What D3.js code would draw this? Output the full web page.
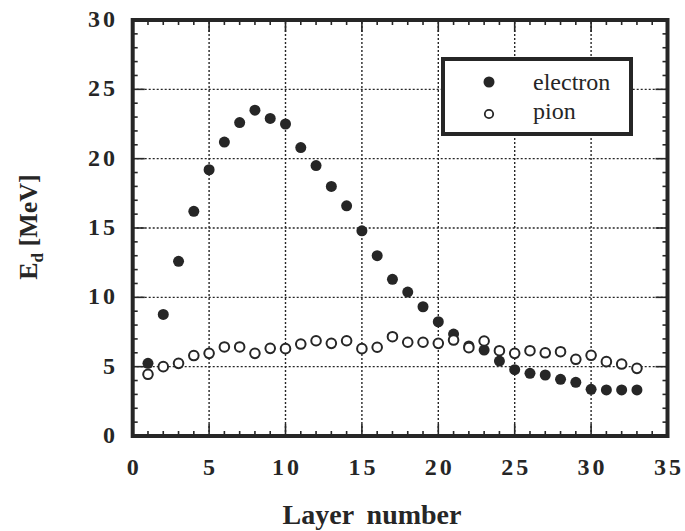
<!DOCTYPE html>
<html>
<head>
<meta charset="utf-8">
<script src="https://cdn.jsdelivr.net/npm/d3@7"></script>
<style>
  html, body { margin: 0; padding: 0; background: #fff; }
  svg { display: block; }
</style>
</head>
<body>
<svg id="chart" width="685" height="531"></svg>
<script>
// Energy deposit per layer for electrons and pions
const layers = d3.range(1, 34);
const electronEd = [5.24, 8.77, 12.6, 16.2, 19.2, 21.2, 22.6, 23.5, 22.9, 22.5,
  20.8, 19.5, 18.0, 16.6, 14.8, 13.0, 11.3, 10.38, 9.32, 8.24,
  7.35, 6.49, 6.2, 5.4, 4.78, 4.52, 4.4, 4.09, 3.87, 3.37,
  3.32, 3.32, 3.32];
const pionEd = [4.45, 5.0, 5.24, 5.8, 5.96, 6.42, 6.42, 5.96, 6.32, 6.3,
  6.63, 6.87, 6.68, 6.87, 6.3, 6.4, 7.16, 6.76, 6.76, 6.68,
  6.92, 6.37, 6.85, 6.15, 5.96, 6.15, 6.0, 6.08, 5.53, 5.82,
  5.36, 5.19, 4.88];
const xTicks = [0, 5, 10, 15, 20, 25, 30, 35];
const yTicks = [0, 5, 10, 15, 20, 25, 30];
const seriesNames = ["electron", "pion"];

const ink = "#262626";
const serif = "'Liberation Serif', Tinos, 'Times New Roman', Times, serif";
const svg = d3.select("#chart");

const x = d3.scaleLinear().domain([0, 35]).range([132.7, 667.5]);
const y = d3.scaleLinear().domain([0, 30]).range([436, 20]);

// dotted grid at major ticks
const grid = svg.append("g");
grid.selectAll("line.gx").data(xTicks.filter(v => v > 0 && v < 35)).join("line")
  .attr("x1", d => x(d)).attr("x2", d => x(d))
  .attr("y1", y(0)).attr("y2", y(30))
  .attr("stroke", ink).attr("stroke-width", 1.4).attr("stroke-dasharray", "2,2");
grid.selectAll("line.gy").data(yTicks.filter(v => v > 0 && v < 30)).join("line")
  .attr("y1", d => y(d)).attr("y2", d => y(d))
  .attr("x1", x(0)).attr("x2", x(35))
  .attr("stroke", ink).attr("stroke-width", 1.4).attr("stroke-dasharray", "2,2");

// inward ticks on all four sides
const minorX = d3.range(1, 35), minorY = d3.range(1, 30);
const tickLen = v => (v % 5 === 0 ? 12 : 5);
const ticks = svg.append("g").attr("stroke", ink).attr("stroke-width", 1.6);
ticks.selectAll(null).data(minorX).join("line")
  .attr("x1", d => x(d)).attr("x2", d => x(d))
  .attr("y1", y(0)).attr("y2", d => y(0) - tickLen(d));
ticks.selectAll(null).data(minorX).join("line")
  .attr("x1", d => x(d)).attr("x2", d => x(d))
  .attr("y1", y(30)).attr("y2", d => y(30) + tickLen(d));
ticks.selectAll(null).data(minorY).join("line")
  .attr("y1", d => y(d)).attr("y2", d => y(d))
  .attr("x1", x(0)).attr("x2", d => x(0) + tickLen(d));
ticks.selectAll(null).data(minorY).join("line")
  .attr("y1", d => y(d)).attr("y2", d => y(d))
  .attr("x1", x(35)).attr("x2", d => x(35) - tickLen(d));

// frame
svg.append("rect")
  .attr("x", x(0)).attr("y", y(30))
  .attr("width", x(35) - x(0)).attr("height", y(0) - y(30))
  .attr("fill", "none").attr("stroke", ink).attr("stroke-width", 4);

// tick labels
svg.append("g").selectAll("text").data(xTicks).join("text")
  .attr("x", d => x(d) + 1.5).attr("y", 475)
  .attr("text-anchor", "middle").attr("fill", ink)
  .style("font-family", serif)
  .style("font-size", "24px").style("font-weight", "bold").style("letter-spacing", "3px")
  .text(d => d);
svg.append("g").selectAll("text").data(yTicks).join("text")
  .attr("x", 118).attr("y", d => y(d) + 7)
  .attr("text-anchor", "end").attr("fill", ink)
  .style("font-family", serif)
  .style("font-size", "24px").style("font-weight", "bold").style("letter-spacing", "3px")
  .text(d => d);

// axis titles
svg.append("text")
  .attr("x", 372).attr("y", 524).attr("text-anchor", "middle").attr("fill", ink)
  .style("font-family", serif)
  .style("font-size", "28px").style("font-weight", "bold").style("word-spacing", "6px")
  .text("Layer number");
const yt = svg.append("text")
  .attr("transform", "translate(37,227) rotate(-90)")
  .attr("text-anchor", "middle").attr("fill", ink)
  .style("font-family", serif)
  .style("font-size", "26px").style("font-weight", "bold");
yt.append("tspan").text("E");
yt.append("tspan").attr("dy", 6).style("font-size", "17px").text("d");
yt.append("tspan").attr("dy", -6).text(" [MeV]");

// data points
svg.append("g").selectAll("circle").data(layers).join("circle")
  .attr("cx", d => x(d)).attr("cy", (d, i) => y(electronEd[i]))
  .attr("r", 5.5).attr("fill", ink);
svg.append("g").selectAll("circle").data(layers).join("circle")
  .attr("cx", d => x(d)).attr("cy", (d, i) => y(pionEd[i]))
  .attr("r", 4.8).attr("fill", "#fff").attr("stroke", ink).attr("stroke-width", 2);

// legend
const lg = svg.append("g");
lg.append("rect").attr("x", 443).attr("y", 59).attr("width", 188).attr("height", 75)
  .attr("fill", "#fff").attr("stroke", ink).attr("stroke-width", 4);
lg.append("circle").attr("cx", 489).attr("cy", 82).attr("r", 5.5).attr("fill", ink);
lg.append("circle").attr("cx", 489).attr("cy", 114).attr("r", 4.2)
  .attr("fill", "#fff").attr("stroke", ink).attr("stroke-width", 1.8);
lg.selectAll("text").data(seriesNames).join("text")
  .attr("x", 533).attr("y", (d, i) => 90 + i * 29).attr("fill", ink)
  .style("font-family", serif)
  .style("font-size", "24px")
  .text(d => d);
</script>
</body>
</html>
